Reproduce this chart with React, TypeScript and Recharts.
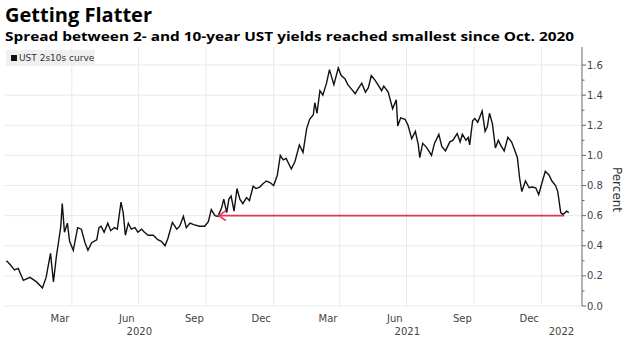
import React from 'react';
import { LineChart, Line, XAxis, YAxis, ReferenceLine } from 'recharts';

// days since 1 Jan 2020
const days = [
  2, 6, 13, 18, 25, 34, 43, 51, 56, 62, 66, 70, 74, 76, 78, 81, 85, 88, 93, 99, 104, 109, 113, 118, 125,
  128, 131, 135, 140, 144, 149, 153, 158, 161, 164, 168, 172, 177, 181, 186, 190, 195, 202, 208, 213, 218, 222, 228, 234, 238, 243, 247, 252, 257,
  265, 272, 277, 281, 286, 290, 295, 298, 302, 305, 308, 312, 316, 320, 324, 329, 333, 338, 342, 347, 351, 356, 361, 366, 371, 375, 379, 383,
  390, 395, 401, 406, 411, 415, 420, 422, 425, 429, 433, 438, 442, 448, 454, 458, 463, 467, 472, 477, 482, 486, 491, 495, 499, 504, 508, 513, 516,
  522, 528, 533, 535, 539, 545, 549, 554, 559, 563, 565, 569, 573, 576, 581, 585, 591, 595, 600, 606, 610, 616, 620, 623, 628, 631, 633, 637, 640, 644,
  650, 654, 657, 660, 664, 668, 672, 675, 680, 685, 690, 694, 698, 701, 704, 709, 714, 718, 723, 727, 731, 736, 741, 745, 750, 753, 757, 760, 765, 768,
];

// UST 2s10s spread, percent
const spread = [
  0.3, 0.28, 0.24, 0.25, 0.17, 0.19, 0.16, 0.12, 0.19, 0.35, 0.16, 0.33, 0.46, 0.53, 0.68, 0.49, 0.55, 0.43, 0.37, 0.52, 0.51, 0.42, 0.37, 0.42, 0.44,
  0.52, 0.53, 0.49, 0.55, 0.5, 0.52, 0.51, 0.69, 0.62, 0.47, 0.55, 0.51, 0.52, 0.49, 0.51, 0.49, 0.47, 0.47, 0.44, 0.43, 0.4, 0.45, 0.555, 0.51, 0.53, 0.595, 0.52, 0.55, 0.54,
  0.53, 0.53, 0.56, 0.64, 0.6, 0.595, 0.65, 0.71, 0.62, 0.71, 0.73, 0.63, 0.78, 0.71, 0.68, 0.72, 0.7, 0.795, 0.78, 0.79, 0.81, 0.83, 0.82, 0.8, 0.87, 1.0, 0.97, 0.98,
  0.91, 0.96, 1.07, 1.02, 1.18, 1.24, 1.27, 1.35, 1.28, 1.43, 1.4, 1.48, 1.57, 1.47, 1.58, 1.53, 1.51, 1.47, 1.44, 1.41, 1.45, 1.48, 1.42, 1.45, 1.53, 1.5, 1.47, 1.43, 1.46,
  1.42, 1.31, 1.37, 1.195, 1.25, 1.24, 1.2, 1.11, 1.16, 1.07, 0.985, 1.08, 1.06, 1.04, 1.0, 1.08, 1.14, 1.06, 1.03, 1.09, 1.1, 1.145, 1.09, 1.14, 1.1, 1.12, 1.07, 1.23, 1.245, 1.22,
  1.295, 1.16, 1.19, 1.28, 1.21, 1.05, 1.1, 1.07, 1.03, 1.12, 1.09, 1.04, 0.985, 0.85, 0.76, 0.83, 0.785, 0.79, 0.785, 0.74, 0.81, 0.895, 0.87, 0.83, 0.8, 0.76, 0.62, 0.607, 0.63, 0.62,
];

const monthTicks = [75, 166, 258, 349, 440, 531, 623, 714];
const monthLabels = ['Mar', 'Jun', 'Sep', 'Dec', 'Mar', 'Jun', 'Sep', 'Dec'];
const yearTicks = [183, 548, 758];
const yearLabels = ['2020', '2021', '2022'];
const quarterStarts = [91, 182, 274, 366, 456, 547, 639, 731];
const yTicks = [0, 0.1, 0.2, 0.3, 0.4, 0.5, 0.6, 0.7, 0.8, 0.9, 1.0, 1.1, 1.2, 1.3, 1.4, 1.5, 1.6];
const yGrid = [0, 0.2, 0.4, 0.6, 0.8, 1.0, 1.2, 1.4, 1.6];

// red marker: from Oct 2020 to latest, at the 0.6 level
const floorStart = 290;
const floorEnd = 762;
const floorLevel = 0.6;

const chartData = days.map((d, i) => ({ day: d, value: spread[i] }));

const FONT = '"DejaVu Sans", sans-serif';
const RED = '#e3345a';

const YTick = (props: any) => {
  const { x, y, payload } = props;
  const major = Math.round(payload.value * 10) % 2 === 0;
  return (
    <g>
      <line x1={x} x2={x + (major ? 4 : 2.5)} y1={y} y2={y} stroke="#666" strokeWidth={1} />
      {major && (
        <text x={x + 5} y={y} dy="0.35em" fontSize={10} fill="#444" fontFamily={FONT}>
          {payload.value.toFixed(1)}
        </text>
      )}
    </g>
  );
};

const ArrowLine = (props: any) => {
  const { x1, y1, x2 } = props;
  const left = Math.min(x1, x2);
  const right = Math.max(x1, x2);
  return (
    <g>
      <line x1={left} y1={y1} x2={right} y2={y1} stroke={RED} strokeWidth={1.6} />
      <path
        d={`M${left + 8},${y1 - 5} L${left + 1},${y1} L${left + 8},${y1 + 5}`}
        fill="none"
        stroke={RED}
        strokeWidth={1.6}
      />
    </g>
  );
};

export default function App() {
  return (
    <div style={{ position: 'absolute', left: 0, top: 0, width: 628, height: 337, background: '#fff' }}>
      <svg width={628} height={50} style={{ position: 'absolute', left: 0, top: 0 }}>
        <text x={5} y={22} fontSize={20} fontWeight={700} fontFamily='"Open Sans", sans-serif' fill="#000"
          textLength={147} lengthAdjust="spacingAndGlyphs">
          Getting Flatter
        </text>
        <text x={5} y={41} fontSize={13} fontWeight={700} fontFamily='"Open Sans", sans-serif' fill="#000"
          textLength={569} lengthAdjust="spacingAndGlyphs">
          Spread between 2- and 10-year UST yields reached smallest since Oct. 2020
        </text>
      </svg>
      <LineChart
        width={628}
        height={337}
        data={chartData}
        margin={{ top: 47, right: 0, bottom: 1, left: 5 }}
        style={{ position: 'absolute', left: 0, top: 0 }}
      >
        <XAxis
          dataKey="day"
          type="number"
          domain={[0, 786]}
          ticks={monthTicks}
          interval={0}
          tickFormatter={(v: number) => monthLabels[monthTicks.indexOf(v)]}
          axisLine={false}
          tickLine={false}
          tickSize={0}
          tickMargin={9}
          height={16}
          tick={{ fontSize: 10, fill: '#444', fontFamily: FONT }}
        />
        <XAxis
          xAxisId="year"
          dataKey="day"
          type="number"
          domain={[0, 786]}
          ticks={yearTicks}
          interval={0}
          tickFormatter={(v: number) => yearLabels[yearTicks.indexOf(v)]}
          axisLine={false}
          tickLine={false}
          tickSize={0}
          tickMargin={6}
          height={14}
          tick={{ fontSize: 10, fill: '#444', fontFamily: FONT }}
        />
        <YAxis
          orientation="right"
          type="number"
          domain={[0, 1.72]}
          ticks={yTicks}
          interval={0}
          width={46}
          tickLine={false}
          tickSize={0}
          tickMargin={0}
          axisLine={{ stroke: '#666' }}
          tick={<YTick />}
          label={{
            value: 'Percent',
            angle: 90,
            position: 'insideRight',
            dx: -6,
            dy: 13,
            style: { fontSize: 12, fill: '#333', fontFamily: FONT, textAnchor: 'middle' },
          }}
        />
        {quarterStarts.map((q) => (
          <ReferenceLine key={'q' + q} x={q} stroke="#e9e9e9" strokeWidth={1} />
        ))}
        {yGrid.map((g) => (
          <ReferenceLine key={'g' + g} y={g} stroke="#e9e9e9" strokeWidth={1} />
        ))}
        <Line
          type="linear"
          dataKey="value"
          stroke="#111"
          strokeWidth={1.4}
          dot={false}
          isAnimationActive={false}
        />
        <ReferenceLine
          segment={[
            { x: floorStart, y: floorLevel },
            { x: floorEnd, y: floorLevel },
          ]}
          shape={<ArrowLine />}
        />
      </LineChart>
      <div
        style={{
          position: 'absolute',
          left: 6,
          top: 50,
          width: 89,
          height: 16,
          background: '#f0f0f0',
          display: 'flex',
          alignItems: 'center',
          fontFamily: FONT,
          fontSize: 9,
          color: '#333',
        }}
      >
        <span style={{ display: 'inline-block', width: 6, height: 6, background: '#111', marginLeft: 5, marginRight: 2 }} />
        UST 2s10s curve
      </div>
    </div>
  );
}
